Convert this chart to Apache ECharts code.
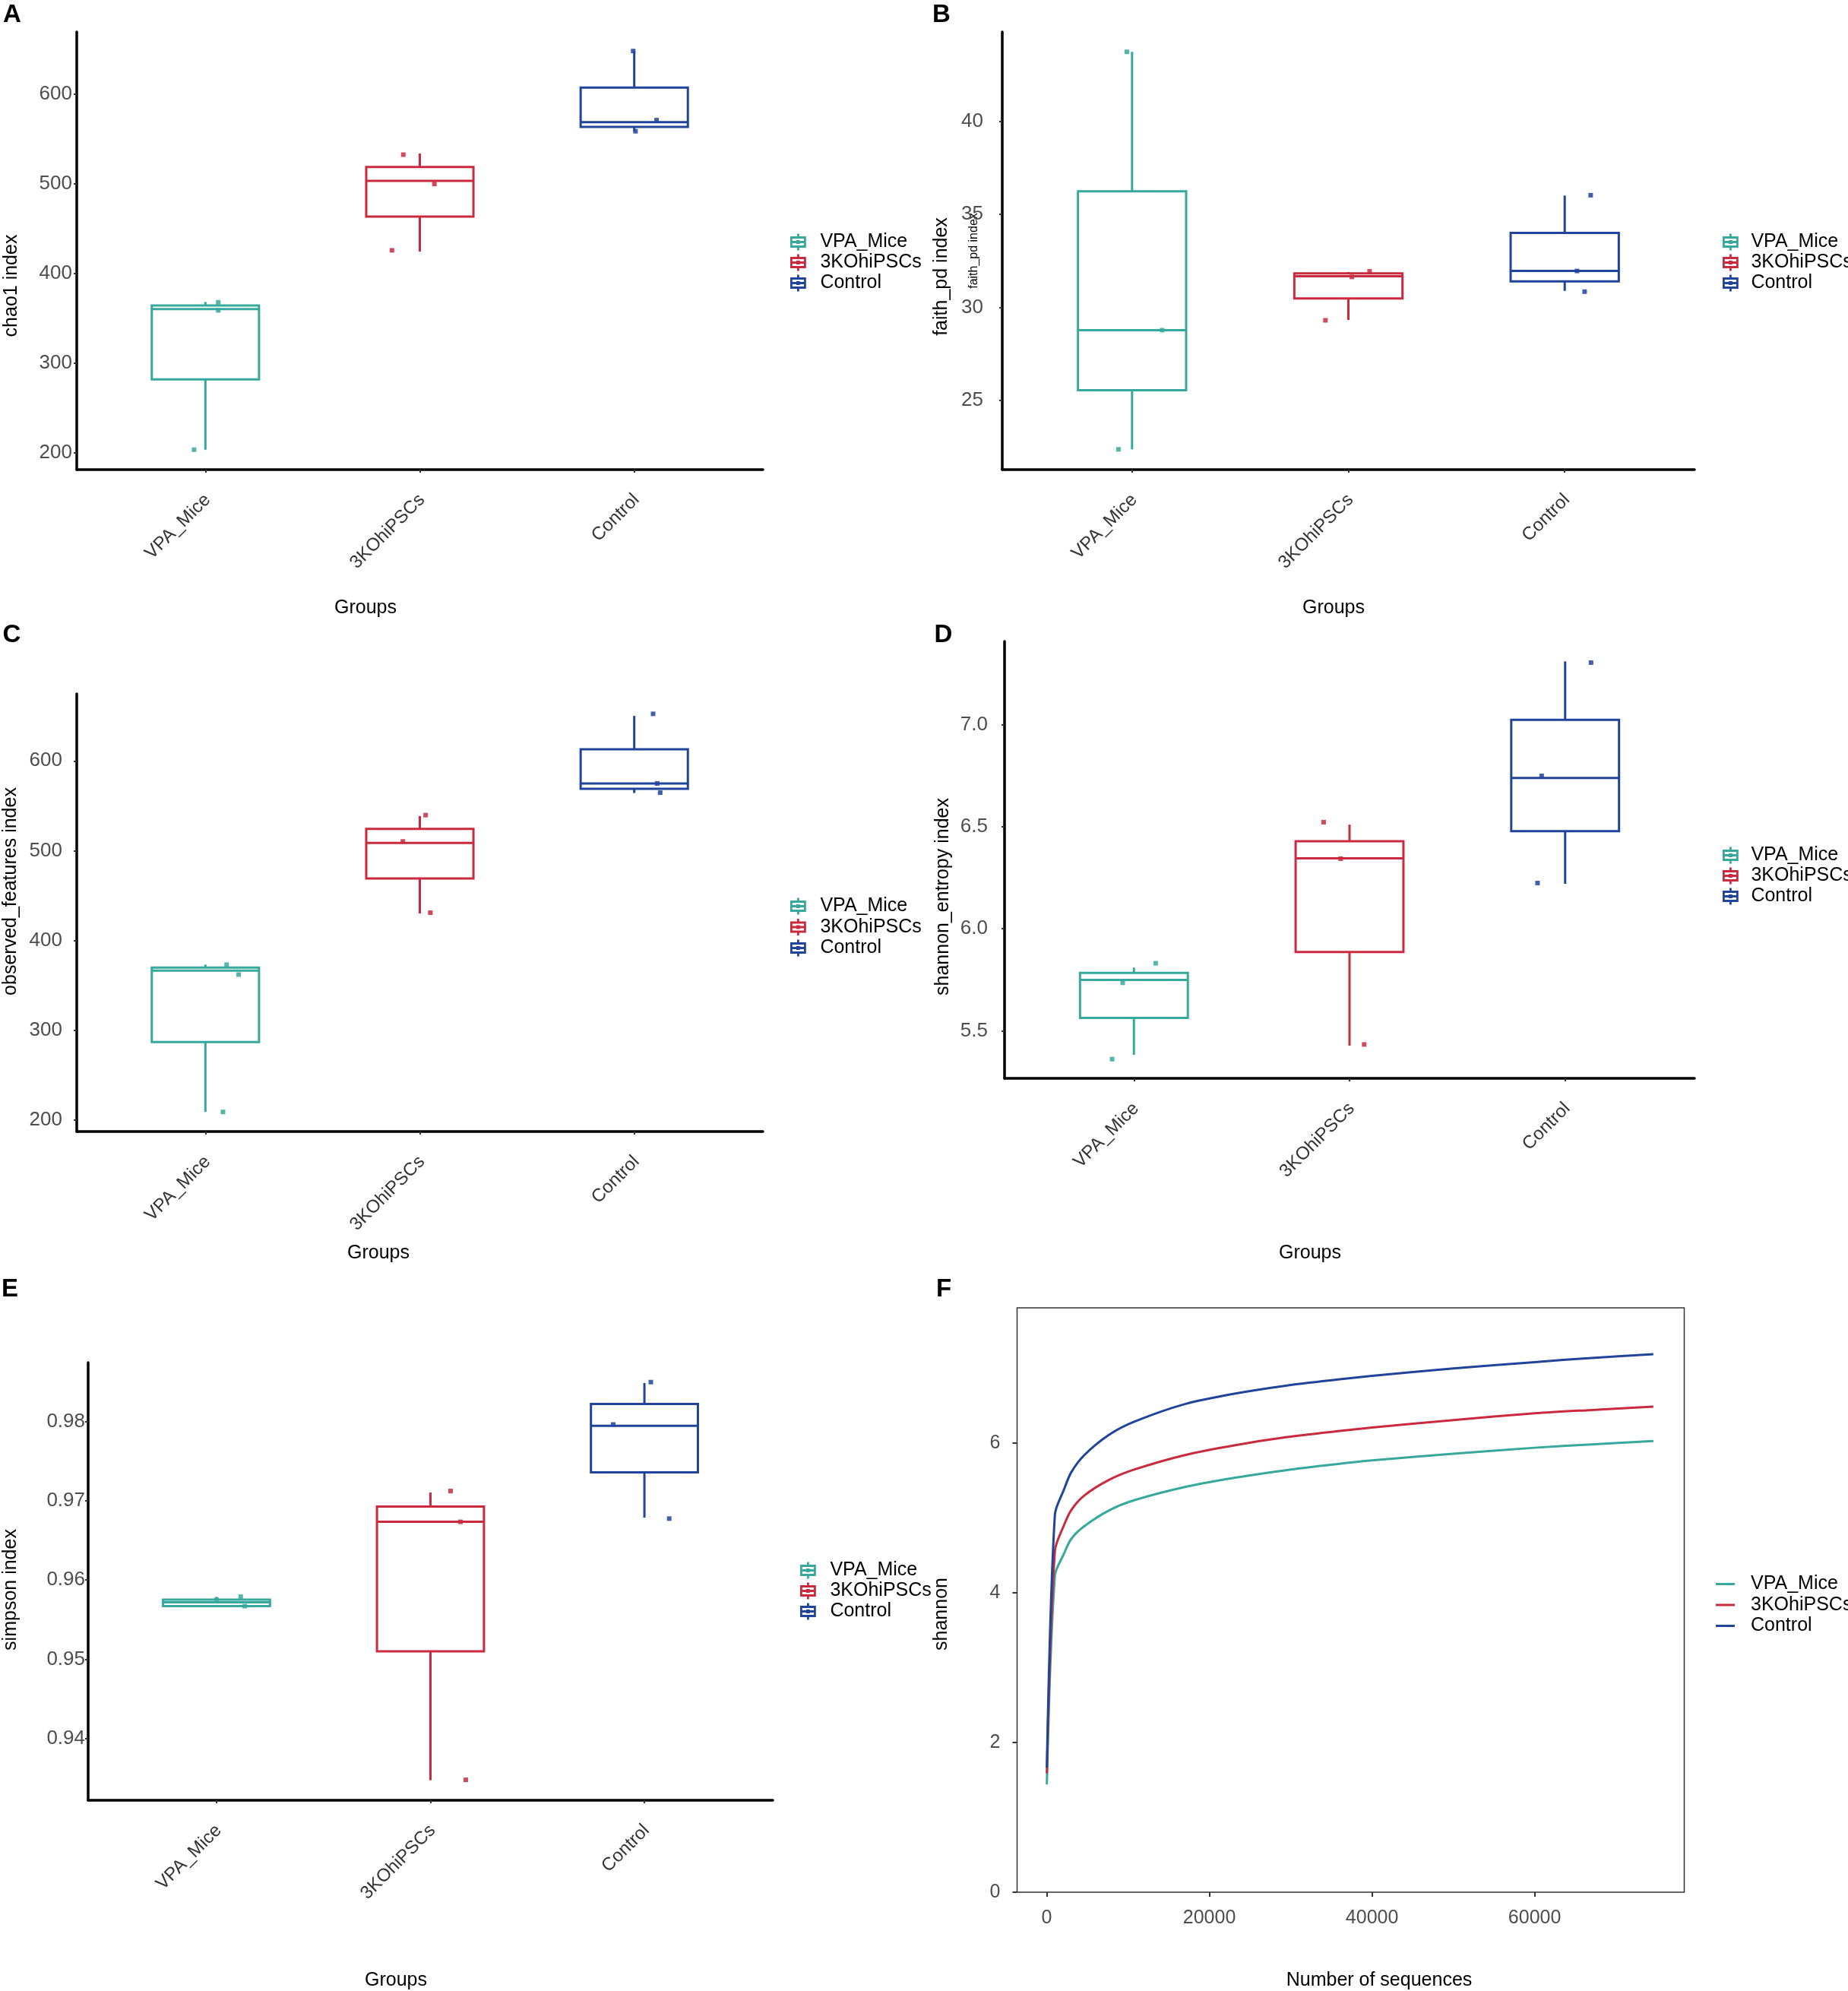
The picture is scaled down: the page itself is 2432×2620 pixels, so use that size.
<!DOCTYPE html>
<html><head><meta charset="utf-8">
<script src="https://cdn.jsdelivr.net/npm/echarts@6/dist/echarts.min.js"></script>
<style>html,body{margin:0;padding:0;background:#fff}#c{width:2432px;height:2620px}</style>
</head><body><div id="c"></div>
<script>
// ---------- data ----------
const groups = ['VPA_Mice', '3KOhiPSCs', 'Control'];
const colors = ['#36A99C', '#C92A3E', '#21449B'];

// box stats per group: [lower whisker, Q1, median, Q3, upper whisker]
const chao1Box = [[203.6, 282.0, 360.4, 364.4, 368.4], [424.6, 463.6, 503.5, 519.0, 534.0], [558.8, 563.7, 569.0, 607.5, 648.3]];
const faithBox = [[22.38, 25.56, 28.78, 36.24, 43.73], [29.33, 30.48, 31.68, 31.83, 31.9], [30.89, 31.40, 31.96, 34.0, 36.01]];
const observedBox = [[209.3, 287.2, 366.6, 370.0, 373.3], [430.2, 469.1, 508.6, 524.4, 538.7], [564.3, 568.9, 574.9, 613.0, 650.1]];
const shannonEntBox = [[5.382, 5.563, 5.749, 5.784, 5.81], [5.427, 5.886, 6.345, 6.429, 6.51], [6.22, 6.478, 6.739, 7.024, 7.31]];
const simpsonBox = [[0.95665, 0.95671, 0.95718, 0.95753, 0.95788], [0.93471, 0.951, 0.96735, 0.96929, 0.97106], [0.96788, 0.97359, 0.97947, 0.98224, 0.98488]];

// jittered samples: [group index, horizontal jitter (category units), value]
const chao1Pts = [[0, -0.053, 203.6], [0, 0.06, 368.0], [0, 0.06, 359.0], [1, -0.077, 532.7], [1, 0.068, 500.0], [1, -0.13, 426.0], [2, -0.005, 648.3], [2, 0.104, 571.2], [2, 0.006, 558.8]];
const faithPts = [[0, -0.024, 43.73], [0, 0.139, 28.78], [0, -0.063, 22.38], [1, -0.106, 29.31], [1, 0.016, 31.64], [1, 0.098, 31.94], [2, 0.12, 36.03], [2, 0.057, 31.96], [2, 0.092, 30.85]];
const observedPts = [[0, 0.082, 209.3], [0, 0.099, 373.2], [0, 0.155, 362.2], [1, 0.027, 539.7], [1, -0.079, 510.4], [1, 0.049, 431.1], [2, 0.088, 652.4], [2, 0.107, 574.9], [2, 0.121, 564.7]];
const shannonEntPts = [[0, 0.101, 5.831], [0, -0.052, 5.735], [0, -0.101, 5.361], [1, -0.12, 6.522], [1, -0.041, 6.343], [1, 0.068, 5.433], [2, 0.12, 7.304], [2, -0.109, 6.749], [2, -0.128, 6.224]];
const simpsonPts = [[0, 0.0, 0.9575], [0, 0.113, 0.9579], [0, 0.132, 0.9567], [1, 0.094, 0.97124], [1, 0.14, 0.96735], [1, 0.165, 0.93476], [2, 0.03, 0.985], [2, -0.146, 0.97965], [2, 0.116, 0.96776]];

// y tick labels
const chao1Ticks = [200, 300, 400, 500, 600];
const faithTicks = [25, 30, 35, 40];
const observedTicks = [200, 300, 400, 500, 600];
const shannonEntTicks = [5.5, 6.0, 6.5, 7.0];
const simpsonTicks = [0.94, 0.95, 0.96, 0.97, 0.98];

// rarefaction curves (panel F)
const seqDepth = [10, 1000, 2100, 3000, 4600, 7700, 10800, 17000, 23200, 29400, 35600, 40000, 50000, 60000, 67000, 74600];
const rareVPA = [1.44, 4.23, 4.52, 4.72, 4.89, 5.105, 5.24, 5.416, 5.54, 5.64, 5.72, 5.77, 5.86, 5.94, 5.985, 6.03];
const rare3KO = [1.59, 4.56, 4.90, 5.105, 5.30, 5.513, 5.65, 5.843, 5.975, 6.08, 6.16, 6.21, 6.31, 6.40, 6.445, 6.49];
const rareCtrl = [1.665, 5.046, 5.377, 5.61, 5.84, 6.116, 6.29, 6.524, 6.665, 6.77, 6.85, 6.90, 7.00, 7.085, 7.14, 7.19];
const rareXTicks = [0, 20000, 40000, 60000];
const rareYTicks = [0, 2, 4, 6];

// ---------- layout ----------
const FONT = '"Liberation Sans", Arial, Helvetica, sans-serif';
const boxPanels = [
  {box: chao1Box, pts: chao1Pts, ticks: chao1Ticks, dec: 0, y: [181.4, 669.6], grid: {left: 101, top: 42, width: 903, height: 576}, yMargin: 6, lg: {left: 1035, top: 301, pad: 14, gap: 2}},
  {box: faithBox, pts: faithPts, ticks: faithTicks, dec: 0, y: [21.29, 44.8], grid: {left: 1319, top: 42, width: 911, height: 576}, yMargin: 25, lg: {left: 2262, top: 301, pad: 12, gap: 2}},
  {box: observedBox, pts: observedPts, ticks: observedTicks, dec: 0, y: [187.5, 674.7], grid: {left: 101, top: 913, width: 903, height: 576}, yMargin: 19, lg: {left: 1035, top: 1175, pad: 14, gap: 2.5}},
  {box: shannonEntBox, pts: shannonEntPts, ticks: shannonEntTicks, dec: 1, y: [5.267, 7.408], grid: {left: 1322, top: 844, width: 908, height: 575}, yMargin: 22, lg: {left: 2262, top: 1108, pad: 12, gap: 2}},
  {box: simpsonBox, pts: simpsonPts, ticks: simpsonTicks, dec: 2, y: [0.93218, 0.98747], grid: {left: 116, top: 1793, width: 901, height: 576}, yMargin: 4, lg: {left: 1048, top: 2049, pad: 14, gap: 2}}
];

const BOXICON = 'path://M10,0L10,5M1,5L19,5L19,17L1,17ZM1,11L19,11M10,17L10,22M9,10L11,10L11,12L9,12Z';

function boxRender(params, api) {
  const x = api.value(0);
  const lo = api.value(1), q1 = api.value(2), md = api.value(3), q3 = api.value(4), hi = api.value(5);
  const hw = 0.25;
  const c = api.visual('color');
  const style = {stroke: c, lineWidth: 3, fill: 'none'};
  const pHi = api.coord([x, hi]), pQ3 = api.coord([x, q3]), pQ1 = api.coord([x, q1]), pLo = api.coord([x, lo]);
  const tl = api.coord([x - hw, q3]), br = api.coord([x + hw, q1]);
  const mL = api.coord([x - hw, md]), mR = api.coord([x + hw, md]);
  return {type: 'group', children: [
    {type: 'line', shape: {x1: pHi[0], y1: pHi[1], x2: pQ3[0], y2: pQ3[1]}, style: style},
    {type: 'line', shape: {x1: pLo[0], y1: pLo[1], x2: pQ1[0], y2: pQ1[1]}, style: style},
    {type: 'rect', shape: {x: tl[0], y: tl[1], width: br[0] - tl[0], height: br[1] - tl[1]}, style: style},
    {type: 'line', shape: {x1: mL[0], y1: mL[1], x2: mR[0], y2: mR[1]}, style: style}
  ]};
}

const grids = [], xAxes = [], yAxes = [], legends = [], series = [];
const axisLineStyle = {show: true, onZero: false, lineStyle: {color: '#000', width: 3.5}};
const tickStyle = {color: '#333', width: 2};

boxPanels.forEach((p, i) => {
  grids.push(Object.assign({show: false, containLabel: false, outerBoundsMode: 'none'}, p.grid));
  xAxes.push({
    type: 'value', gridIndex: i, min: -0.6, max: 2.6,
    axisLine: axisLineStyle, splitLine: {show: false},
    axisTick: {show: true, customValues: [0, 1, 2], length: 4, lineStyle: tickStyle},
    axisLabel: {show: true, customValues: [0, 1, 2], formatter: v => groups[Math.round(v)] || '',
      rotate: 45, align: 'right', verticalAlign: 'top', margin: 22, padding: [0, 8, 0, 0],
      fontSize: 24, color: '#333', fontFamily: FONT}
  });
  yAxes.push({
    type: 'value', gridIndex: i, min: p.y[0], max: p.y[1],
    axisLine: axisLineStyle, splitLine: {show: false},
    axisTick: {show: true, customValues: p.ticks, length: 4, lineStyle: tickStyle},
    axisLabel: {show: true, customValues: p.ticks, formatter: v => Number(v).toFixed(p.dec),
      margin: p.yMargin, fontSize: 26, color: '#4d4d4d', fontFamily: FONT}
  });
  groups.forEach((g, gi) => {
    series.push({
      type: 'custom', name: g, xAxisIndex: i, yAxisIndex: i, silent: true, z: 2,
      data: [[gi].concat(p.box[gi])],
      dimensions: ['x', 'lo', 'q1', 'md', 'q3', 'hi'],
      encode: {x: 0, y: [1, 2, 3, 4, 5]},
      itemStyle: {color: colors[gi]},
      renderItem: boxRender
    });
    series.push({
      type: 'scatter', name: g, xAxisIndex: i, yAxisIndex: i, silent: true, z: 3,
      data: p.pts.filter(d => d[0] === gi).map(d => [d[0] + d[1], d[2]]),
      symbol: 'rect', symbolSize: 6,
      itemStyle: {color: colors[gi], opacity: 0.85}
    });
  });
  legends.push({
    left: p.lg.left, top: p.lg.top, orient: 'vertical', selectedMode: false,
    itemWidth: 20, itemHeight: 22, itemGap: p.lg.gap,
    textStyle: {fontSize: 25, color: '#000', fontFamily: FONT, padding: [0, 0, 0, p.lg.pad]},
    data: groups.map((g, gi) => ({name: g, icon: BOXICON,
      itemStyle: {color: 'rgba(0,0,0,0)', borderColor: colors[gi], borderWidth: 2.8}}))
  });
});

// Panel F
grids.push({left: 1338.5, top: 1721, width: 878, height: 769, show: true, borderColor: '#333', borderWidth: 1.5, containLabel: false, outerBoundsMode: 'none'});
xAxes.push({
  type: 'value', gridIndex: 5, min: -3650, max: 78400,
  axisLine: {show: false, onZero: false}, splitLine: {show: false},
  axisTick: {show: true, customValues: rareXTicks, length: 6, lineStyle: tickStyle},
  axisLabel: {show: true, customValues: rareXTicks, formatter: v => String(v), margin: 22,
    fontSize: 25, color: '#4d4d4d', fontFamily: FONT}
});
yAxes.push({
  type: 'value', gridIndex: 5, min: 0, max: 7.81,
  axisLine: {show: false, onZero: false}, splitLine: {show: false},
  axisTick: {show: true, customValues: rareYTicks, length: 6, lineStyle: tickStyle},
  axisLabel: {show: true, customValues: rareYTicks, formatter: v => String(v), margin: 22,
    fontSize: 25, color: '#4d4d4d', fontFamily: FONT}
});
[rareVPA, rare3KO, rareCtrl].forEach((arr, gi) => {
  series.push({
    type: 'line', name: groups[gi], xAxisIndex: 5, yAxisIndex: 5, silent: true,
    data: seqDepth.map((x, k) => [x, arr[k]]),
    showSymbol: false, smooth: 0.3,
    lineStyle: {color: colors[gi], width: 3}, itemStyle: {color: colors[gi]}
  });
});
legends.push({
  left: 2253, top: 2067, orient: 'vertical', selectedMode: false,
  itemWidth: 25, itemHeight: 3, itemGap: 2.5,
  textStyle: {fontSize: 25, color: '#000', fontFamily: FONT, padding: [0, 0, 0, 16]},
  data: groups.map((g, gi) => ({name: g, icon: 'rect', itemStyle: {color: colors[gi]}}))
});

// ---------- titles ----------
function txt(s, x, y, size, opt) {
  opt = opt || {};
  return {type: 'text', x: x, y: y, rotation: opt.rot || 0, silent: true,
    style: {text: s, x: 0, y: 0, fontSize: size, fontFamily: FONT, fontWeight: opt.bold ? 'bold' : 'normal',
      fill: opt.color || '#000', align: 'center', verticalAlign: 'middle',
      textAlign: 'center', textVerticalAlign: 'middle'}};
}
const R = Math.PI / 2;
const graphics = [
  txt('A', 16, 20, 33, {bold: true}), txt('B', 1239, 20, 33, {bold: true}),
  txt('C', 15.5, 836, 33, {bold: true}), txt('D', 1241.5, 836, 33, {bold: true}),
  txt('E', 13, 1697, 33, {bold: true}), txt('F', 1242, 1697, 33, {bold: true}),
  txt('chao1 index', 15.5, 376, 25, {rot: R}),
  txt('faith_pd index', 1239, 364, 25, {rot: R}),
  txt('faith_pd index', 1282, 330, 16, {rot: R}),
  txt('observed_features index', 14, 1173, 25, {rot: R}),
  txt('shannon_entropy index', 1241, 1180, 25, {rot: R}),
  txt('simpson index', 14, 2092, 25, {rot: R}),
  txt('shannon', 1239, 2124, 25, {rot: R}),
  txt('Groups', 481, 800, 25), txt('Groups', 1755, 800, 25),
  txt('Groups', 498, 1649, 25), txt('Groups', 1724, 1649, 25),
  txt('Groups', 521, 2606, 25), txt('Number of sequences', 1815, 2606, 25)
];

const chart = echarts.init(document.getElementById('c'), null, {renderer: 'canvas'});
chart.setOption({
  backgroundColor: '#fff',
  animation: false,
  grid: grids, xAxis: xAxes, yAxis: yAxes,
  legend: legends, series: series, graphic: graphics
});
</script>
</body></html>
